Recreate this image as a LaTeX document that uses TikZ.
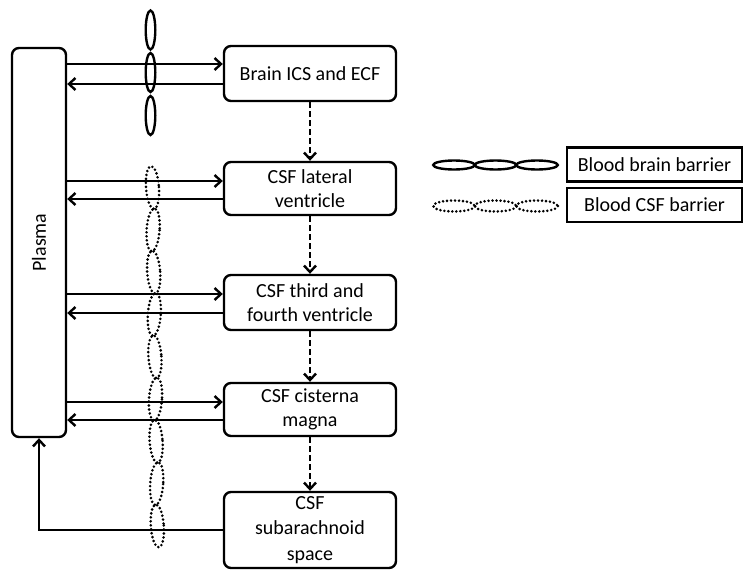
\documentclass[tikz,border=0pt]{standalone}
\usepackage{fontspec}
\setmainfont{Carlito}
\usetikzlibrary{arrows.meta,calc}
\begin{document}
\begin{tikzpicture}[x=1pt,y=-1pt,
  lw/.style={line width=2.4pt},
  stepbox/.style={draw,lw,rounded corners=7pt,minimum width=172pt,align=center,inner sep=0pt,
     font=\fontsize{20}{24}\selectfont},
  arr/.style={lw,-{Straight Barb[length=6.5pt,width=12pt,line width=2.4pt]}},
  darr/.style={arr,dash pattern=on 6pt off 3pt},
  bbb/.style={line width=2.4pt},
  bcsf/.style={line width=2.9pt,line cap=round,dash pattern=on 0pt off 4pt},
  legbox/.style={draw,lw,minimum width=175pt,minimum height=34pt,inner sep=0pt,font=\fontsize{20}{24}\selectfont}
]
\useasboundingbox (0,0) rectangle (744,570);
% boxes
\node[draw,lw,rounded corners=7pt,minimum width=54pt,minimum height=389pt,inner sep=0pt] (plasma) at (39,242.5) {};
\node[rotate=90,font=\fontsize{20}{24}\selectfont] (plasmatxt) at (plasma.center) {Plasma};
\node[stepbox,minimum height=55pt] (brain) at (310,73.5) {Brain ICS and ECF};
\node[stepbox,minimum height=53pt] (lat) at (310,188.5) {CSF lateral\\ventricle};
\node[stepbox,minimum height=55pt] (third) at (310,302.5) {CSF third and\\fourth ventricle};
\node[stepbox,minimum height=53pt] (cist) at (310,409.5) {CSF cisterna\\magna};
\node[stepbox,minimum height=76pt,font=\fontsize{20}{25.5}\selectfont] (sub) at (310,530) {CSF\\subarachnoid\\space};
% exchange arrows
\foreach \n/\u/\d in {brain/9.5/-10.5, lat/7.5/-10.5, third/8.5/-10.5, cist/7.5/-10.5}{
  \draw[arr] ([yshift=\u pt]\n.west -| plasma.east) -- ([yshift=\u pt]\n.west);
  \draw[arr] ([yshift=\d pt]\n.west) -- ([yshift=\d pt]\n.west -| plasma.east);
}
% dashed flow
\draw[darr] (brain.south) -- (lat.north);
\draw[darr] (lat.south) -- (third.north);
\draw[darr] (third.south) -- (cist.north);
\draw[darr] (cist.south) -- (sub.north);
% return
\draw[arr] (sub.west) -| (plasma.south);
% blood brain barrier
\foreach \y in {30,72.5,115.5}{
  \draw[bbb] (150.5,\y) ellipse [x radius=4.8, y radius=19.5];
}
% blood CSF barrier chain
\foreach \i in {0,...,8}{
  \pgfmathsetmacro{\cy}{187.5+42.3*\i}
  \pgfmathsetmacro{\cx}{152.5+0.6*\i}
  \pgfmathsetmacro{\rot}{mod(\i,2)==0 ? 4 : -4}
  \draw[bcsf,rotate around={\rot:(\cx,\cy)}] (\cx,\cy) ellipse [x radius=6.5, y radius=21.5];
}
% legend
\foreach \x in {454,495.5,537}{
  \draw[bbb] (\x,165) ellipse [x radius=20.8, y radius=4.5];
  \draw[bcsf] (\x,206) ellipse [x radius=20.8, y radius=5.5];
}
\node[legbox] (l1) at (654.5,164.5) {Blood brain barrier};
\node[legbox] (l2) at (654.5,205) {Blood CSF barrier};
\end{tikzpicture}
\end{document}
